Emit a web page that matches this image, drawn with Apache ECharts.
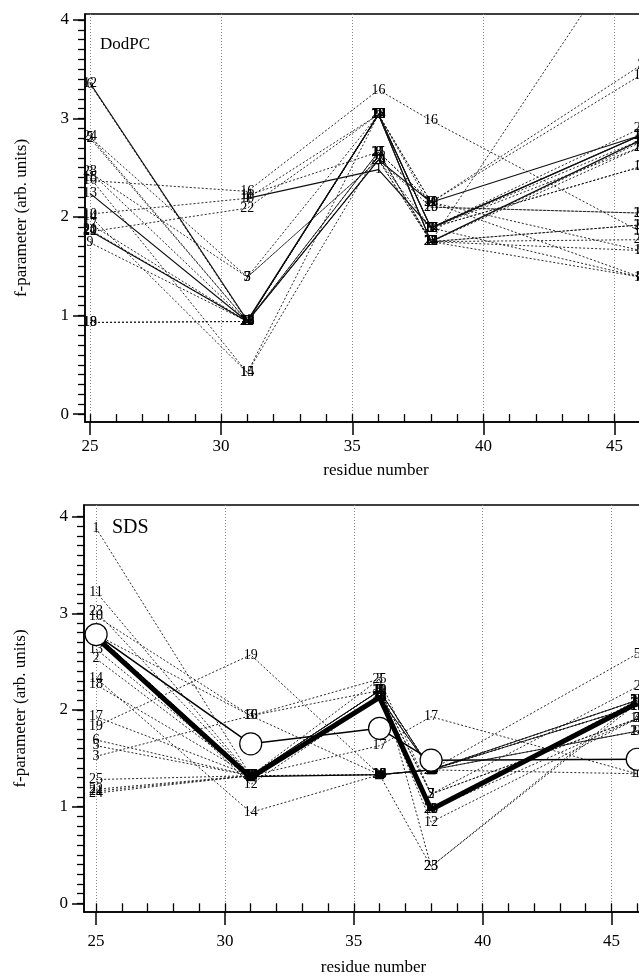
<!DOCTYPE html>
<html>
<head>
<meta charset="utf-8">
<script src="https://cdn.jsdelivr.net/npm/echarts@6.0.0/dist/echarts.min.js"></script>
<style>
  * { margin: 0; padding: 0; }
  html, body { width: 639px; height: 977px; overflow: hidden; background: #fff; }
</style>
</head>
<body>
<div id="main" style="width:700px;height:977px;"></div>
<script>
// residue numbers where f was measured
var residues = [25, 31, 36, 38, 46];
var majorX = [25, 30, 35, 40, 45];
var majorY = [0, 1, 2, 3, 4];

// DodPC panel: one row per numbered curve (values at 25, 31, 36, 38, 46)
var dodpcNames = ['12', '6', '24', '2', '5', '23', '3', '15', '16', '13', '10', '14', '17',
                  '20', '21', '22', '9', '19', '18', '11', '1', '25', '4', '7', '8'];
var dodpcValues = [
  [3.36, 0.95, 3.04, 1.89, 2.83],
  [3.35, 0.94, 2.66, 1.75, 2.76],
  [2.82, 0.94, 2.58, 1.75, 2.71],
  [2.80, 0.94, 3.04, 2.15, 3.54],
  [2.81, 1.39, 2.58, 1.75, 1.66],
  [2.46, 0.94, 3.04, 1.89, 2.90],
  [2.45, 1.39, 2.58, 1.89, 2.51],
  [2.40, 0.42, 2.66, 1.75, 1.92],
  [2.37, 2.26, 3.29, 2.98, 1.85],
  [2.24, 0.94, 3.04, 1.75, 2.78],
  [2.03, 2.19, 3.04, 2.10, 2.04],
  [2.01, 0.42, 3.04, 1.89, 2.71],
  [1.93, 0.94, 3.04, 1.89, 2.51],
  [1.86, 0.94, 2.58, 2.15, 2.83],
  [1.87, 0.94, 2.66, 1.75, 1.92],
  [1.85, 2.09, 3.04, 1.75, 1.77],
  [1.74, 0.94, 3.04, 1.89, 2.78],
  [0.93, 0.94, 3.04, 2.15, 3.44],
  [0.93, 0.94, 3.04, 1.75, 1.39],
  [null, 2.22, 2.66, 2.15, 1.66],
  [null, 2.19, 2.48, 1.89, 2.83],
  [null, 0.94, 2.58, 2.10, 2.04],
  [null, 0.94, 3.04, 1.75, 4.95],
  [null, 1.39, 3.04, 1.89, 1.39],
  [null, 0.94, 2.66, 2.15, 1.39]
];
var dodpcSolid = ['12', '13', '20', '1'];

// SDS panel
var sdsNames = ['1', '11', '23', '10', '13', '2', '14', '18', '17', '19', '6', '5', '3',
                '16', '25', '22', '21', '24', '12', '4', '20', '15', '9', '7', '8'];
var sdsValues = [
  [3.88, 1.32, 2.20, 1.38, 1.34],
  [3.22, 1.32, 2.20, 1.38, 2.10],
  [3.02, 1.32, 1.33, 0.38, 2.07],
  [2.97, 1.94, 2.20, 1.38, 2.04],
  [2.63, 1.32, 2.13, 0.97, 2.07],
  [2.53, 1.32, 2.20, 1.13, 2.24],
  [2.33, 0.94, 1.33, 1.38, 1.78],
  [2.26, 1.32, 2.13, 1.38, 2.10],
  [1.93, 1.32, 1.63, 1.93, 1.34],
  [1.83, 2.57, 1.33, 1.38, 2.04],
  [1.69, 1.32, 2.13, 0.97, 2.07],
  [1.63, 1.32, 2.20, 1.38, 2.58],
  [1.52, 1.94, 2.32, 1.13, 1.91],
  [2.78, 1.94, 1.33, 1.38, 2.04],
  [1.28, 1.32, 2.32, 0.38, 2.10],
  [1.18, 1.32, 2.20, 1.38, 2.10],
  [1.16, 1.32, 2.13, 0.97, 2.07],
  [1.14, 1.32, 2.13, 1.38, 1.78],
  [2.78, 1.23, 2.13, 0.84, 1.91],
  [2.78, 1.32, 2.20, 0.97, 1.91],
  [2.78, 1.32, 2.15, 0.97, 2.10],
  [2.78, 1.32, 1.33, 1.38, 2.04],
  [2.78, 1.32, 2.13, 1.38, 1.78],
  [2.78, 1.32, 2.20, 1.13, 1.91],
  [2.78, 1.32, 2.13, 1.38, 2.10]
];
var sdsMean = [2.75, 1.30, 2.13, 0.97, 2.07];
var sdsCircles = [2.78, 1.65, 1.81, 1.48, 1.49];
var sdsSquares = [null, 1.31, 1.33, 1.38, null];

var serif = 'Liberation Serif';

function pts(vals) {
  var out = [];
  for (var i = 0; i < residues.length; i++) {
    if (vals[i] != null) out.push([residues[i], vals[i]]);
  }
  return out;
}

function range(a, b, step) {
  var r = [];
  for (var v = a; v <= b + 1e-9; v += step) r.push(Math.round(v * 100) / 100);
  return r;
}

function axesFor(g, xmin, ymin, ymax, labelGap, nameGap) {
  var xs = [
    {
      type: 'value', gridIndex: g, min: xmin, max: 47, position: 'bottom',
      axisLine: { show: true, onZero: false, lineStyle: { color: '#000', width: 1.5 } },
      axisTick: { show: true, length: 13, customValues: majorX, lineStyle: { color: '#000', width: 1.5 } },
      axisLabel: { customValues: majorX, fontFamily: serif, fontSize: 17, color: '#000', margin: labelGap },
      splitLine: { show: true, lineStyle: { color: '#888', width: 1, type: [1, 2] } },
      name: 'residue number', nameLocation: 'middle', nameGap: nameGap,
      nameTextStyle: { fontFamily: serif, fontSize: 17, color: '#000' }
    },
    {
      type: 'value', gridIndex: g, min: xmin, max: 47, position: 'bottom',
      axisLine: { show: false },
      axisTick: { show: true, length: 8, customValues: range(25, 47, 1), lineStyle: { color: '#000', width: 1.3 } },
      axisLabel: { show: false },
      splitLine: { show: false }
    }
  ];
  var ys = [
    {
      type: 'value', gridIndex: g, min: ymin, max: ymax, position: 'left',
      axisLine: { show: true, onZero: false, lineStyle: { color: '#000', width: 1.5 } },
      axisTick: { show: true, length: 12, customValues: majorY, lineStyle: { color: '#000', width: 1.5 } },
      axisLabel: { customValues: majorY, fontFamily: serif, fontSize: 17, color: '#000', margin: 16 },
      splitLine: { show: false },
      name: 'f-parameter (arb. units)', nameLocation: 'middle', nameGap: 55,
      nameTextStyle: { fontFamily: serif, fontSize: 17, color: '#000' }
    },
    {
      type: 'value', gridIndex: g, min: ymin, max: ymax, position: 'left',
      axisLine: { show: false },
      axisTick: { show: true, length: 7, customValues: range(0, 4, 0.1), lineStyle: { color: '#000', width: 1.3 } },
      axisLabel: { show: false },
      splitLine: { show: false }
    }
  ];
  return { x: xs, y: ys };
}

function numbered(names, values, solid, xi, yi) {
  return names.map(function (n, i) {
    var isSolid = solid.indexOf(n) >= 0;
    return {
      name: n, type: 'line', xAxisIndex: xi, yAxisIndex: yi,
      data: pts(values[i]),
      symbol: 'circle', symbolSize: 1,
      itemStyle: { color: 'rgba(0,0,0,0)' },
      lineStyle: { color: '#111', width: isSolid ? 1.2 : 0.9, type: isSolid ? 'solid' : [2, 2] },
      label: { show: true, position: 'inside', formatter: n, color: '#000', fontFamily: serif, fontSize: 14 },
      z: isSolid ? 3 : 2,
      silent: true, animation: false
    };
  });
}

var a0 = axesFor(0, 24.81, -0.08, 4.06, 16, 40);
var a1 = axesFor(1, 24.53, -0.09, 4.12, 21, 47);

var series = []
  .concat(numbered(dodpcNames, dodpcValues, dodpcSolid, 0, 0))
  .concat(numbered(sdsNames, sdsValues, [], 2, 2));

series.push({
  name: 'mean', type: 'line', xAxisIndex: 2, yAxisIndex: 2,
  data: pts(sdsMean), symbol: 'none',
  lineStyle: { color: '#000', width: 5 }, z: 5, animation: false
});
series.push({
  name: 'squares', type: 'line', xAxisIndex: 2, yAxisIndex: 2,
  data: pts(sdsSquares), symbol: 'rect', symbolSize: 9,
  itemStyle: { color: '#000' },
  lineStyle: { color: '#000', width: 1.2 }, z: 5, animation: false
});
series.push({
  name: 'circles', type: 'line', xAxisIndex: 2, yAxisIndex: 2,
  data: pts(sdsCircles), symbol: 'circle', symbolSize: 22,
  itemStyle: { color: '#fff', borderColor: '#000', borderWidth: 1.2 },
  lineStyle: { color: '#000', width: 1.5 }, z: 6, animation: false
});

var chart = echarts.init(document.getElementById('main'), null, { renderer: 'canvas' });
chart.setOption({
  backgroundColor: '#fff',
  animation: false,
  grid: [
    { left: 85, top: 14, width: 582, height: 408, show: true, borderColor: '#000', borderWidth: 1.5 },
    { left: 84, top: 505, width: 579, height: 408, show: true, borderColor: '#000', borderWidth: 1.5 }
  ],
  xAxis: a0.x.concat(a1.x),
  yAxis: a0.y.concat(a1.y),
  graphic: [
    { type: 'text', left: 100, top: 36, style: { text: 'DodPC', font: '17px "Liberation Serif"', fill: '#000' } },
    { type: 'text', left: 112, top: 518, style: { text: 'SDS', font: '20px "Liberation Serif"', fill: '#000' } }
  ],
  series: series
});
</script>
</body>
</html>
